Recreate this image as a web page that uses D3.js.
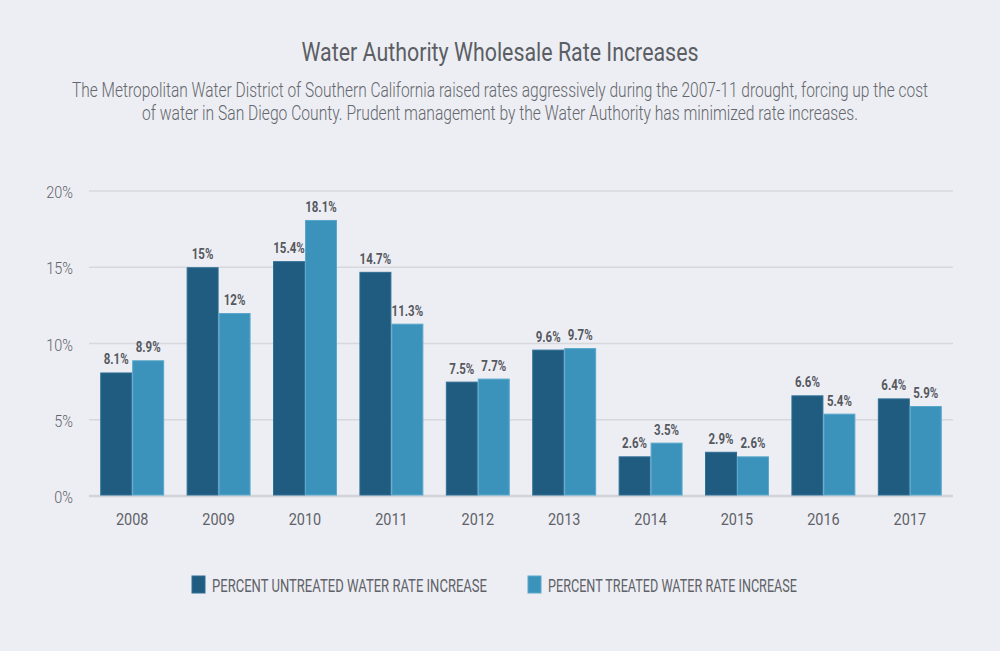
<!DOCTYPE html>
<html>
<head>
<meta charset="utf-8">
<script src="https://cdn.jsdelivr.net/npm/d3@7"></script>
<style>
  body { margin: 0; background: #edeef3; }
  svg { display: block; }
</style>
</head>
<body>
<div id="chart"></div>
<script>
// chart values
var years = ["2008","2009","2010","2011","2012","2013","2014","2015","2016","2017"];
var untreated = [8.1, 15, 15.4, 14.7, 7.5, 9.6, 2.6, 2.9, 6.6, 6.4];
var treated = [8.9, 12, 18.1, 11.3, 7.7, 9.7, 3.5, 2.6, 5.4, 5.9];
var untreatedLabels = ["8.1%","15%","15.4%","14.7%","7.5%","9.6%","2.6%","2.9%","6.6%","6.4%"];
var treatedLabels = ["8.9%","12%","18.1%","11.3%","7.7%","9.7%","3.5%","2.6%","5.4%","5.9%"];
var yTicks = [0, 5, 10, 15, 20];
var seriesNames = ["PERCENT UNTREATED WATER RATE INCREASE", "PERCENT TREATED WATER RATE INCREASE"];

var width = 1000, height = 651;
var margin = {top: 191, right: 47, bottom: 155, left: 89};
var w = width - margin.left - margin.right,
    h = height - margin.top - margin.bottom;

var svg = d3.select("#chart").append("svg")
    .attr("width", width)
    .attr("height", height)
    .style("background", "#edeef3");

// squeeze a text horizontally to look like a condensed face
function condense(sel, k) {
  sel.each(function() {
    var len = this.getComputedTextLength();
    d3.select(this).attr("textLength", len * k).attr("lengthAdjust", "spacingAndGlyphs");
  });
}

// title + subtitle
svg.append("text")
    .attr("x", 500).attr("y", 61)
    .attr("text-anchor", "middle")
    .attr("textLength", 397).attr("lengthAdjust", "spacingAndGlyphs")
    .style("font-family", "Roboto, sans-serif")
    .style("font-size", "26px")
    .style("fill", "#5b5e64")
    .text("Water Authority Wholesale Rate Increases");

var sub = [
  ["The Metropolitan Water District of Southern California raised rates aggressively during the 2007-11 drought, forcing up the cost", 856, 97],
  ["of water in San Diego County. Prudent management by the Water Authority has minimized rate increases.", 716, 120]
];
sub.forEach(function(s) {
  svg.append("text")
      .attr("x", 500).attr("y", s[2])
      .attr("text-anchor", "middle")
      .attr("textLength", s[1]).attr("lengthAdjust", "spacingAndGlyphs")
      .style("font-family", "Roboto, sans-serif")
      .style("font-weight", 300)
      .style("font-size", "20px")
      .style("fill", "#64676d")
      .text(s[0]);
});

var g = svg.append("g")
    .attr("transform", "translate(" + margin.left + "," + margin.top + ")");

var x = d3.scaleBand().domain(years).range([0, w]).paddingInner(0.26).paddingOuter(0.13);
var x1 = d3.scaleBand().domain([0, 1]).range([0, x.bandwidth()]);
var y = d3.scaleLinear().domain([0, 20]).range([h, 0]);

// gridlines
g.selectAll(".grid")
    .data(yTicks)
  .enter().append("line")
    .attr("x1", 0).attr("x2", w)
    .attr("y1", function(d) { return y(d); })
    .attr("y2", function(d) { return y(d); })
    .style("stroke", function(d) { return d === 0 ? "#d3d4da" : "#d7d8de"; })
    .style("stroke-width", function(d) { return d === 0 ? 2.5 : 1.5; });

// y axis labels
g.selectAll(".ylab")
    .data(yTicks)
  .enter().append("text")
    .attr("x", -16)
    .attr("y", function(d) { return y(d) + 7; })
    .attr("text-anchor", "end")
    .style("font-family", "Roboto, sans-serif")
    .style("font-weight", 300)
    .style("font-size", "17px")
    .style("fill", "#5f6268")
    .text(function(d) { return d + "%"; })
    .call(condense, 0.85);

// x axis labels
g.selectAll(".xlab")
    .data(years)
  .enter().append("text")
    .attr("x", function(d) { return x(d) + x.bandwidth() / 2; })
    .attr("y", h + 29)
    .attr("text-anchor", "middle")
    .style("font-family", "Roboto, sans-serif")
    .style("font-size", "17px")
    .style("fill", "#5f6268")
    .text(function(d) { return d; })
    .call(condense, 0.85);

var colors = ["#1f5c80", "#3b93bb"];
var strokes = ["#2f6f95", "#5aa7cb"];
var series = [untreated, treated];
var labels = [untreatedLabels, treatedLabels];

series.forEach(function(vals, si) {
  g.selectAll(".bar" + si)
      .data(vals)
    .enter().append("rect")
      .attr("x", function(d, i) { return x(years[i]) + x1(si) + 0.5; })
      .attr("width", x1.bandwidth() - 1)
      .attr("y", function(d) { return y(d) + 0.5; })
      .attr("height", function(d) { return h - y(d) - 1.5; })
      .style("fill", colors[si])
      .style("stroke", strokes[si])
      .style("stroke-width", 1);

  g.selectAll(".lab" + si)
      .data(vals)
    .enter().append("text")
      .attr("x", function(d, i) { return x(years[i]) + x1(si) + x1.bandwidth() / 2; })
      .attr("y", function(d) { return y(d) - 8; })
      .attr("text-anchor", "middle")
      .style("font-family", "Roboto, sans-serif")
      .style("font-weight", 700)
      .style("font-size", "14px")
      .style("fill", "#55585f")
      .text(function(d, i) { return labels[si][i]; })
      .call(condense, 0.82);
});

// legend
var legX = [192, 528], legW = [275, 249];
seriesNames.forEach(function(name, i) {
  svg.append("rect")
      .attr("x", legX[i]).attr("y", 576)
      .attr("width", 13).attr("height", 17)
      .style("fill", colors[i])
      .style("stroke", strokes[i]);
  svg.append("text")
      .attr("x", legX[i] + 20).attr("y", 592)
      .attr("textLength", legW[i]).attr("lengthAdjust", "spacingAndGlyphs")
      .style("font-family", "Roboto, sans-serif")
      .style("font-size", "18px")
      .style("fill", "#5f6268")
      .text(name);
});
</script>
</body>
</html>
